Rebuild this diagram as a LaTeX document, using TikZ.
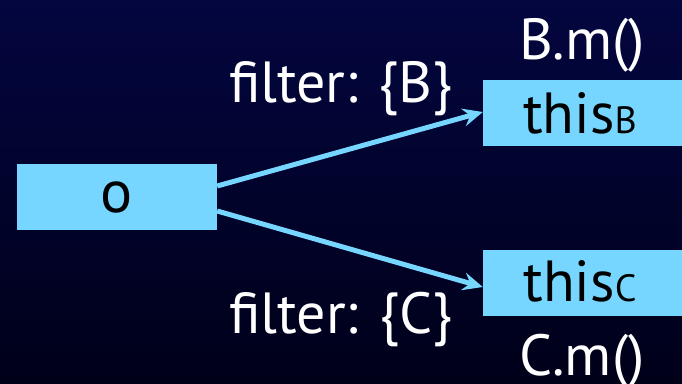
\documentclass[tikz,border=0pt]{standalone}
\usepackage{fontspec}
\setmainfont{PT Sans}
\usetikzlibrary{arrows.meta,calc}
\definecolor{bgtop}{HTML}{03063F}
\definecolor{bgbot}{HTML}{000019}
\definecolor{boxfill}{HTML}{76D6FF}
\tikzset{
  objbox/.style={fill=boxfill, draw=none, minimum height=66pt, inner sep=0pt,
    text=black, font=\fontsize{60}{60}\selectfont},
  boxtext/.style={text=black, font=\fontsize{58}{58}\selectfont, inner sep=0pt, anchor=base},
  lbl/.style={text=white, font=\fontsize{58}{58}\selectfont, inner sep=0pt},
  link/.style={draw=boxfill, line width=5pt,
    -{Stealth[length=20pt,width=18pt,inset=7pt]}},
}
\newcommand{\subtag}[1]{{\fontsize{38}{38}\selectfont #1}}
\begin{document}
\begin{tikzpicture}[x=1pt,y=-1pt]
  % background
  \shade[top color=bgtop, bottom color=bgbot] (0,0) rectangle (682,383);
  \useasboundingbox (0,0) rectangle (682,383);

  % boxes
  \node[objbox, minimum width=200pt] (o) at (117,197) {o};
  \node[objbox, minimum width=220pt] (tb) at (593,113) {};
  \node[objbox, minimum width=220pt] (tc) at (593,283) {};
  \node[boxtext] (tbt) at (580,133) {this\subtag{B}};
  \node[boxtext] (tct) at (580,301) {this\subtag{C}};

  % method names
  \node[lbl, anchor=base] (bm) at (582,59) {B.m()};
  \node[lbl, anchor=base] (cm) at (582,375) {C.m()};

  % filter labels
  \node[lbl, anchor=base] (fb) at (341,102) {filter: \{B\}};
  \node[lbl, anchor=base] (fc) at (341,333) {filter: \{C\}};

  % dispatch arrows
  \draw[link] ($(o.east)+(0,-11)$) -- ($(tb.west)+(0,-1)$);
  \draw[link] ($(o.east)+(0,14)$) -- ($(tc.west)+(0,4)$);
\end{tikzpicture}
\end{document}
